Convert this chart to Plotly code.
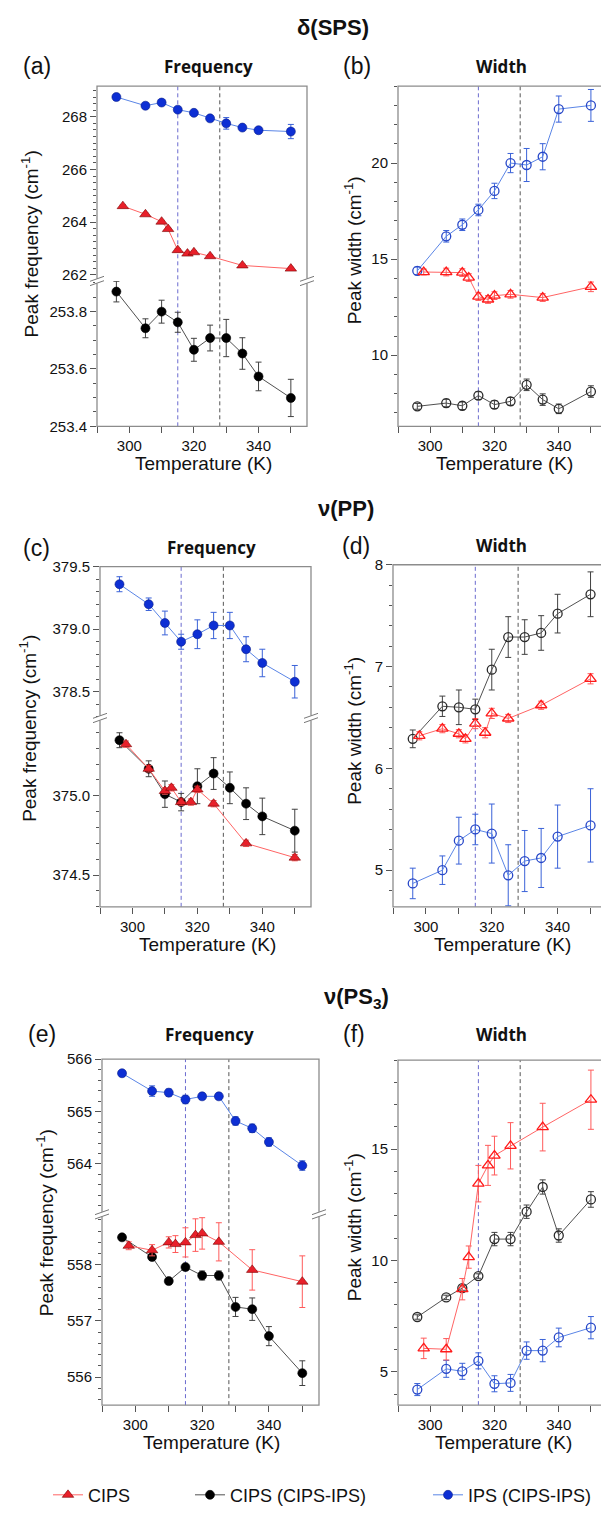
import plotly.graph_objects as go

# ---------------- data ----------------
T_main = [296, 305, 310, 315, 320, 325, 330, 335, 340, 350]
T_cips = [298, 305, 310, 312, 315, 318, 320, 325, 335, 350]

# (a) delta(SPS) frequency
a_blue = [268.75, 268.42, 268.54, 268.27, 268.15, 267.94, 267.75, 267.59, 267.49, 267.44]
a_blue_err = [0.06, 0.08, 0.07, 0.08, 0.08, 0.08, 0.22, 0.08, 0.07, 0.27]
a_red = [264.61, 264.30, 264.02, 263.74, 262.94, 262.81, 262.86, 262.71, 262.36, 262.24]
a_red_err = [0.05, 0.05, 0.05, 0.05, 0.06, 0.05, 0.05, 0.05, 0.05, 0.05]
a_black = [253.870, 253.742, 253.800, 253.763, 253.667, 253.708, 253.708, 253.654, 253.574, 253.499]
a_black_err = [0.036, 0.033, 0.040, 0.035, 0.040, 0.045, 0.065, 0.055, 0.050, 0.065]

# (b) delta(SPS) width
b_blue = [14.39, 16.19, 16.79, 17.56, 18.55, 20.00, 19.90, 20.33, 22.81, 23.00]
b_blue_err = [0.20, 0.30, 0.30, 0.30, 0.40, 0.50, 0.86, 0.68, 0.68, 0.83]
b_red = [14.33, 14.33, 14.30, 14.04, 13.05, 12.90, 13.10, 13.17, 13.00, 13.56]
b_red_err = [0.15, 0.20, 0.20, 0.20, 0.20, 0.20, 0.20, 0.20, 0.20, 0.25]
b_black = [7.34, 7.51, 7.37, 7.90, 7.43, 7.60, 8.46, 7.69, 7.21, 8.11]
b_black_err = [0.15, 0.20, 0.20, 0.20, 0.20, 0.20, 0.30, 0.30, 0.25, 0.30]

# (c) nu(PP) frequency
c_blue = [379.36, 379.20, 379.05, 378.90, 378.96, 379.03, 379.03, 378.84, 378.73, 378.58]
c_blue_err = [0.06, 0.05, 0.095, 0.06, 0.115, 0.105, 0.105, 0.10, 0.11, 0.13]
c_black = [375.35, 375.17, 375.01, 374.96, 375.06, 375.14, 375.05, 374.95, 374.87, 374.78]
c_black_err = [0.047, 0.05, 0.083, 0.055, 0.11, 0.10, 0.10, 0.10, 0.115, 0.135]
c_red = [375.325, 375.17, 375.03, 375.05, 374.96, 374.96, 375.04, 374.95, 374.70, 374.61]
c_red_err = [0.02, 0.02, 0.02, 0.02, 0.02, 0.02, 0.02, 0.02, 0.02, 0.02]

# (d) nu(PP) width
d_black = [6.29, 6.61, 6.60, 6.58, 6.97, 7.29, 7.29, 7.33, 7.52, 7.71]
d_black_err = [0.087, 0.10, 0.17, 0.10, 0.20, 0.20, 0.17, 0.17, 0.19, 0.22]
d_red = [6.32, 6.39, 6.34, 6.29, 6.44, 6.35, 6.54, 6.49, 6.62, 6.88]
d_red_err = [0.04, 0.04, 0.04, 0.04, 0.05, 0.05, 0.05, 0.04, 0.04, 0.05]
d_blue = [4.87, 5.00, 5.29, 5.40, 5.36, 4.95, 5.09, 5.12, 5.33, 5.44]
d_blue_err = [0.15, 0.14, 0.23, 0.15, 0.29, 0.30, 0.30, 0.29, 0.31, 0.36]

# (e) nu(PS3) frequency
e_blue = [565.73, 565.39, 565.36, 565.23, 565.29, 565.29, 564.82, 564.68, 564.42, 563.97]
e_blue_err = [0.04, 0.10, 0.07, 0.08, 0.06, 0.06, 0.08, 0.08, 0.08, 0.09]
e_black = [558.49, 558.14, 557.71, 557.96, 557.81, 557.81, 557.25, 557.21, 556.73, 556.07]
e_black_err = [0.03, 0.04, 0.03, 0.04, 0.08, 0.08, 0.17, 0.20, 0.17, 0.22]
e_red = [558.34, 558.26, 558.40, 558.37, 558.40, 558.53, 558.56, 558.41, 557.91, 557.70]
e_red_err = [0.07, 0.10, 0.10, 0.15, 0.26, 0.29, 0.28, 0.34, 0.36, 0.46]

# (f) nu(PS3) width
f_red = [6.05, 6.01, 8.71, 10.15, 13.45, 14.27, 14.71, 15.15, 15.99, 17.22]
f_red_err = [0.46, 0.48, 0.48, 0.50, 0.82, 0.90, 0.87, 1.04, 1.07, 1.33]
f_black = [7.46, 8.34, 8.76, 9.30, 10.96, 10.96, 12.19, 13.30, 11.12, 12.74]
f_black_err = [0.10, 0.10, 0.10, 0.10, 0.30, 0.30, 0.30, 0.32, 0.30, 0.35]
f_blue = [4.20, 5.13, 5.02, 5.49, 4.46, 4.50, 5.95, 5.95, 6.54, 6.98]
f_blue_err = [0.27, 0.38, 0.36, 0.36, 0.36, 0.38, 0.39, 0.50, 0.42, 0.50]

series_names = ["CIPS", "CIPS (CIPS-IPS)", "IPS (CIPS-IPS)"]
transition_T = [315, 328]

# ---------------- styling ----------------
PAGE_W, PAGE_H = 609, 1514
OFF = 8                      # default body margin of the html page
W, H = PAGE_W - OFF, PAGE_H - OFF
FONT = "Liberation Sans, Arial, Helvetica, sans-serif"
RED_M, RED_L, RED_E = "#e8202a", "#ff6464", "#ff5a5a"
BLK_M, BLK_L, BLK_E = "#000000", "#505050", "#404040"
BLU_M, BLU_L, BLU_E = "#0d2fd4", "#5a85e6", "#3a62d8"
RED_O, BLK_O, BLU_O = "#ff1a1a", "#2a2a2a", "#2747c8"
FRAME = "#8c8c8c"
TICKC = "#555555"


def fx(px):
    return (px - OFF) / W


def fy(py):
    return 1 - (py - OFF) / H


fig = go.Figure()
layout = dict(width=W, height=H, margin=dict(l=0, r=0, t=0, b=0), autosize=False,
              paper_bgcolor="white", plot_bgcolor="white",
              font=dict(family=FONT, size=15, color="#111"))
shapes = []
annotations = []


def xaxis_cfg(x0, x1, anchor):
    return dict(domain=[fx(x0), fx(x1)], anchor=anchor, range=[290, 355],
                tickmode="linear", tick0=300, dtick=20,
                minor=dict(tick0=290, dtick=10, ticks="outside", ticklen=6, tickcolor=TICKC),
                ticks="outside", ticklen=6, tickcolor=TICKC, tickwidth=1,
                showline=False, showgrid=False, zeroline=False,
                tickfont=dict(size=15, family=FONT, color="#111"))


def yaxis_cfg(dom, anchor, rng, tick0, dtick, minor, fmt=None):
    d = dict(domain=dom, anchor=anchor, range=rng, tickmode="linear", tick0=tick0, dtick=dtick,
             ticks="outside", ticklen=6, tickcolor=TICKC, tickwidth=1,
             minor=dict(dtick=minor, tick0=tick0, ticks="outside", ticklen=3, tickcolor=TICKC),
             showline=False, showgrid=False, zeroline=False,
             tickfont=dict(size=15, family=FONT, color="#111"))
    if fmt:
        d["tickformat"] = fmt
    return d


def trace(xa, ya, T, vals, errs, kind, filled, legend=None, name=""):
    if kind == "red":
        mc, lc, ec = (RED_M if filled else RED_O), RED_L, RED_E
        sym = "triangle-up" if filled else "triangle-up-open"
        size = 10
    elif kind == "black":
        mc, lc, ec = (BLK_M if filled else BLK_O), BLK_L, BLK_E
        sym = "circle" if filled else "circle-open"
        size = 9
    else:
        mc, lc, ec = (BLU_M if filled else BLU_O), BLU_L, BLU_E
        sym = "circle" if filled else "circle-open"
        size = 9
    if filled:
        mline = dict(width=0.6, color="#7a0000" if kind == "red" else ("#000" if kind == "black" else "#0a1f8a"))
    else:
        mline = dict(width=1.3, color=mc)
    return go.Scatter(x=T, y=vals, xaxis=xa, yaxis=ya, mode="lines+markers", name=name,
                      line=dict(color=lc, width=1),
                      marker=dict(symbol=sym, size=size, color=mc, line=mline),
                      error_y=dict(type="data", array=errs, color=ec, thickness=1, width=3),
                      showlegend=legend is not None, legend=legend if legend else "legend",
                      hoverinfo="skip")


def frame(x0, x1, y0, y1):
    shapes.append(dict(type="rect", xref="paper", yref="paper", x0=fx(x0), x1=fx(x1),
                       y0=fy(y1), y1=fy(y0), line=dict(color=FRAME, width=1.3), layer="above"))


def break_marks(xpos, brk):
    for xp in xpos:
        shapes.append(dict(type="rect", xref="paper", yref="paper", x0=fx(xp - 2), x1=fx(xp + 2),
                           y0=fy(brk + 2.5), y1=fy(brk - 2.5), line=dict(width=0),
                           fillcolor="white", layer="above"))
        for off in (-2.2, 2.2):
            shapes.append(dict(type="line", xref="paper", yref="paper",
                               x0=fx(xp - 7), y0=fy(brk + off + 2.5), x1=fx(xp + 7), y1=fy(brk + off - 2.5),
                               line=dict(color="#777", width=1), layer="above"))


def vlines(xref, top, bottom):
    cols = ["#6b6bcf", "#555555"]
    for t, c in zip(transition_T, cols):
        shapes.append(dict(type="line", xref=xref, yref="paper", x0=t, x1=t, y0=fy(bottom), y1=fy(top),
                           line=dict(color=c, width=1, dash="4px,3px"), layer="below"))


def text(s, x, y, size, bold=False, family=FONT, angle=0):
    annotations.append(dict(text=("<b>%s</b>" % s) if bold else s, x=fx(x), y=fy(y), xref="paper",
                            yref="paper", showarrow=False, xanchor="center", yanchor="middle",
                            textangle=angle, font=dict(size=size, family=family, color="#111")))


# ---------------- panel geometry (page pixels) ----------------
freq_panels = [
    dict(x="x", yl="y", yu="y2", x0=97, x1=307, top=78, brk=275, bot=422,
         ru=[261.77, 269.16], rl=[253.4, 253.907], tu=(262, 2, 0.25, None), tl=(253.4, 0.2, 0.05, ".1f")),
    dict(x="x3", yl="y4", yu="y5", x0=100, x1=311, top=564, brk=717, bot=908,
         ru=[378.29, 379.5], rl=[374.3, 375.49], tu=(378.5, 0.5, 0.1, ".1f"), tl=(374.5, 0.5, 0.1, ".1f")),
    dict(x="x5", yl="y7", yu="y8", x0=102, x1=319, top=1062, brk=1219, bot=1412,
         ru=[563.04, 566.0], rl=[555.5, 558.9], tu=(564, 1, 0.2, None), tl=(556, 1, 0.2, None)),
]
width_panels = [
    dict(x="x2", y="y3", x0=398, x1=607, top=78, bot=422, r=[6.3, 24.0], t=(10, 5, 1)),
    dict(x="x4", y="y6", x0=393, x1=607, top=562, bot=908, r=[4.64, 8.0001], t=(5, 1, 0.2)),
    dict(x="x6", y="y9", x0=398, x1=607, top=1063, bot=1412, r=[3.5, 19.0], t=(5, 5, 1)),
]


def key(axid, prefix):
    return prefix + "axis" + axid[1:]


for p in freq_panels:
    layout[key(p["x"], "x")] = xaxis_cfg(p["x0"], p["x1"], p["yl"])
    layout[key(p["yl"], "y")] = yaxis_cfg([fy(p["bot"]), fy(p["brk"])], p["x"], p["rl"],
                                          p["tl"][0], p["tl"][1], p["tl"][2], p["tl"][3])
    layout[key(p["yu"], "y")] = yaxis_cfg([fy(p["brk"]), fy(p["top"])], p["x"], p["ru"],
                                          p["tu"][0], p["tu"][1], p["tu"][2], p["tu"][3])
    frame(p["x0"], p["x1"], p["top"], p["bot"])
    vlines(p["x"], p["top"], p["bot"])
    break_marks([p["x0"], p["x1"]], p["brk"])

for p in width_panels:
    layout[key(p["x"], "x")] = xaxis_cfg(p["x0"], p["x1"], p["y"])
    layout[key(p["y"], "y")] = yaxis_cfg([fy(p["bot"]), fy(p["top"])], p["x"], p["r"],
                                         p["t"][0], p["t"][1], p["t"][2])
    frame(p["x0"], p["x1"], p["top"], p["bot"])
    vlines(p["x"], p["top"], p["bot"])

# ---------------- traces ----------------
# (a)
fig.add_trace(trace("x", "y", T_main, a_black, a_black_err, "black", True, "legend2", series_names[1]))
fig.add_trace(trace("x", "y2", T_main, a_blue, a_blue_err, "blue", True, "legend3", series_names[2]))
fig.add_trace(trace("x", "y2", T_cips, a_red, a_red_err, "red", True, "legend", series_names[0]))
# (b)
fig.add_trace(trace("x2", "y3", T_main, b_black, b_black_err, "black", False))
fig.add_trace(trace("x2", "y3", T_main, b_blue, b_blue_err, "blue", False))
fig.add_trace(trace("x2", "y3", T_cips, b_red, b_red_err, "red", False))
# (c)
fig.add_trace(trace("x3", "y4", T_main, c_black, c_black_err, "black", True))
fig.add_trace(trace("x3", "y5", T_main, c_blue, c_blue_err, "blue", True))
fig.add_trace(trace("x3", "y4", T_cips, c_red, c_red_err, "red", True))
# (d)
fig.add_trace(trace("x4", "y6", T_main, d_black, d_black_err, "black", False))
fig.add_trace(trace("x4", "y6", T_main, d_blue, d_blue_err, "blue", False))
fig.add_trace(trace("x4", "y6", T_cips, d_red, d_red_err, "red", False))
# (e)
fig.add_trace(trace("x5", "y7", T_main, e_black, e_black_err, "black", True))
fig.add_trace(trace("x5", "y8", T_main, e_blue, e_blue_err, "blue", True))
fig.add_trace(trace("x5", "y7", T_cips, e_red, e_red_err, "red", True))
# (f)
fig.add_trace(trace("x6", "y9", T_main, f_black, f_black_err, "black", False))
fig.add_trace(trace("x6", "y9", T_main, f_blue, f_blue_err, "blue", False))
fig.add_trace(trace("x6", "y9", T_cips, f_red, f_red_err, "red", False))

# ---------------- texts ----------------
text("δ(SPS)", 333, 19, 22, bold=True)
text("ν(PP)", 346, 505, 22, bold=True)
text("ν(PS<sub>3</sub>)", 356, 1000, 22, bold=True)

for lab, x, y in [("(a)", 37, 58), ("(b)", 357, 58), ("(c)", 36, 545), ("(d)", 356, 543),
                  ("(e)", 42, 1037), ("(f)", 354, 1037)]:
    text(lab, x, y, 23)

for lab, x, y in [("Frequency", 208, 58), ("Width", 501, 58), ("Frequency", 211, 545),
                  ("Width", 501, 543), ("Frequency", 209, 1037), ("Width", 501, 1037)]:
    text(lab, x, y, 17, bold=True, family="Open Sans, sans-serif")

for lab, x, y in [("Peak frequency (cm<sup>-1</sup>)", 30, 238), ("Peak width (cm<sup>-1</sup>)", 353, 244),
                  ("Peak frequency (cm<sup>-1</sup>)", 28, 728), ("Peak width (cm<sup>-1</sup>)", 353, 730),
                  ("Peak frequency (cm<sup>-1</sup>)", 45, 1228), ("Peak width (cm<sup>-1</sup>)", 353, 1232)]:
    text(lab, x, y, 19, angle=-90)

for x, y in [(203, 460), (504, 460), (207, 946), (502, 946), (211, 1450), (503, 1450)]:
    text("Temperature (K)", x, y, 19)

# ---------------- legends ----------------
for lid, xpos in [("legend", 48), ("legend2", 190), ("legend3", 428)]:
    layout[lid] = dict(x=fx(xpos), y=fy(1503), xanchor="left", yanchor="middle", orientation="h",
                       bgcolor="rgba(0,0,0,0)", borderwidth=0,
                       font=dict(size=18, family=FONT, color="#111"))

layout["shapes"] = shapes
layout["annotations"] = annotations
fig.update_layout(**layout)
fig.write_html("out.html")
